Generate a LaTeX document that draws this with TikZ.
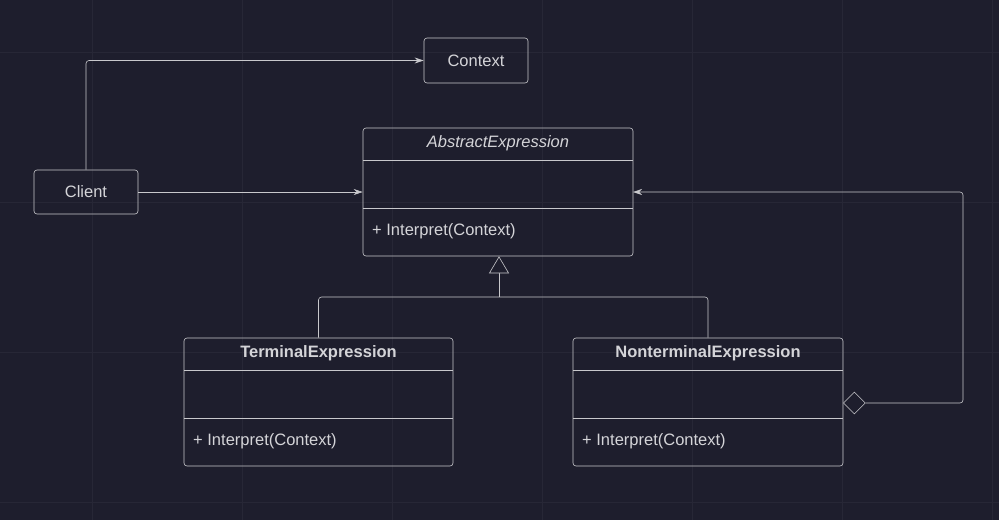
\documentclass[tikz,border=0pt]{standalone}
\usepackage{fontspec}
\setmainfont{Liberation Sans}
\usetikzlibrary{arrows.meta,shapes.geometric}
\definecolor{bg}{HTML}{1E1E2D}
\definecolor{ln}{HTML}{C8C8CC}
\definecolor{tx}{HTML}{D4D4D8}
\definecolor{grd}{HTML}{272736}
\begin{document}
\begin{tikzpicture}[x=1pt,y=-1pt,
  box/.style={draw=ln,line width=0.6pt,rounded corners=3pt},
  lbl/.style={text=tx,font=\fontsize{16.5}{18}\selectfont,inner sep=0pt},
  conn/.style={draw=ln,line width=0.6pt,rounded corners=3pt},
  arr/.style={-{Stealth[length=9pt,width=6pt]}}]
\fill[bg] (0,0) rectangle (999,520);
\useasboundingbox (0,0) rectangle (999,520);
\foreach \x in {92,242,392,542,692,842,992} \draw[grd,line width=0.5pt] (\x,0)--(\x,520);
\foreach \y in {52,202,352,502} \draw[grd,line width=0.5pt] (0,\y)--(999,\y);

% Context and Client
\node[box,minimum width=104pt,minimum height=45pt,lbl] (ctx) at (476,60.5) {Context};
\node[box,minimum width=104pt,minimum height=44pt,lbl] (cli) at (86,192) {Client};

% AbstractExpression
\node[box,minimum width=270pt,minimum height=128pt] (abs) at (498,192) {};
\node[lbl,font=\fontsize{16.5}{18}\selectfont\itshape] (absn) at (498,143) {AbstractExpression};
\draw[ln,line width=0.6pt] (363,160) -- (633,160) (363,208) -- (633,208);
\node[lbl,anchor=west] (absm) at (372,231) {+ Interpret(Context)};

% TerminalExpression
\node[box,minimum width=269pt,minimum height=128pt] (ter) at (318.5,402) {};
\node[lbl,font=\fontsize{16.5}{18}\selectfont\bfseries] (tern) at (318.5,353) {TerminalExpression};
\draw[ln,line width=0.6pt] (184,370) -- (453,370) (184,418) -- (453,418);
\node[lbl,anchor=west] (term) at (193,441) {+ Interpret(Context)};

% NonterminalExpression
\node[box,minimum width=270pt,minimum height=128pt] (non) at (708,402) {};
\node[lbl,font=\fontsize{16.5}{18}\selectfont\bfseries] (nonn) at (708,353) {NonterminalExpression};
\draw[ln,line width=0.6pt] (573,370) -- (843,370) (573,418) -- (843,418);
\node[lbl,anchor=west] (nonm) at (582,441) {+ Interpret(Context)};

% connectors
\draw[conn,arr] (cli.north) |- (ctx.west);
\draw[conn,arr] (cli.east) -- (cli.east -| abs.west);
\coordinate (j) at (499,297);
\draw[conn] (ter.north) |- (j) -| (non.north);
\draw[ln,line width=0.6pt,-{Triangle[open,length=17pt,width=20pt,fill=bg]}] (j) -- (abs.south -| j);
\node[diamond,draw=ln,fill=bg,line width=0.6pt,minimum width=22pt,minimum height=22pt,inner sep=0pt,anchor=west] (dia) at (843,403) {};
\coordinate (r) at (963,403);
\draw[conn,arr] (dia.east) -- (r) -- (963,192) -- (633,192);
\end{tikzpicture}
\end{document}
